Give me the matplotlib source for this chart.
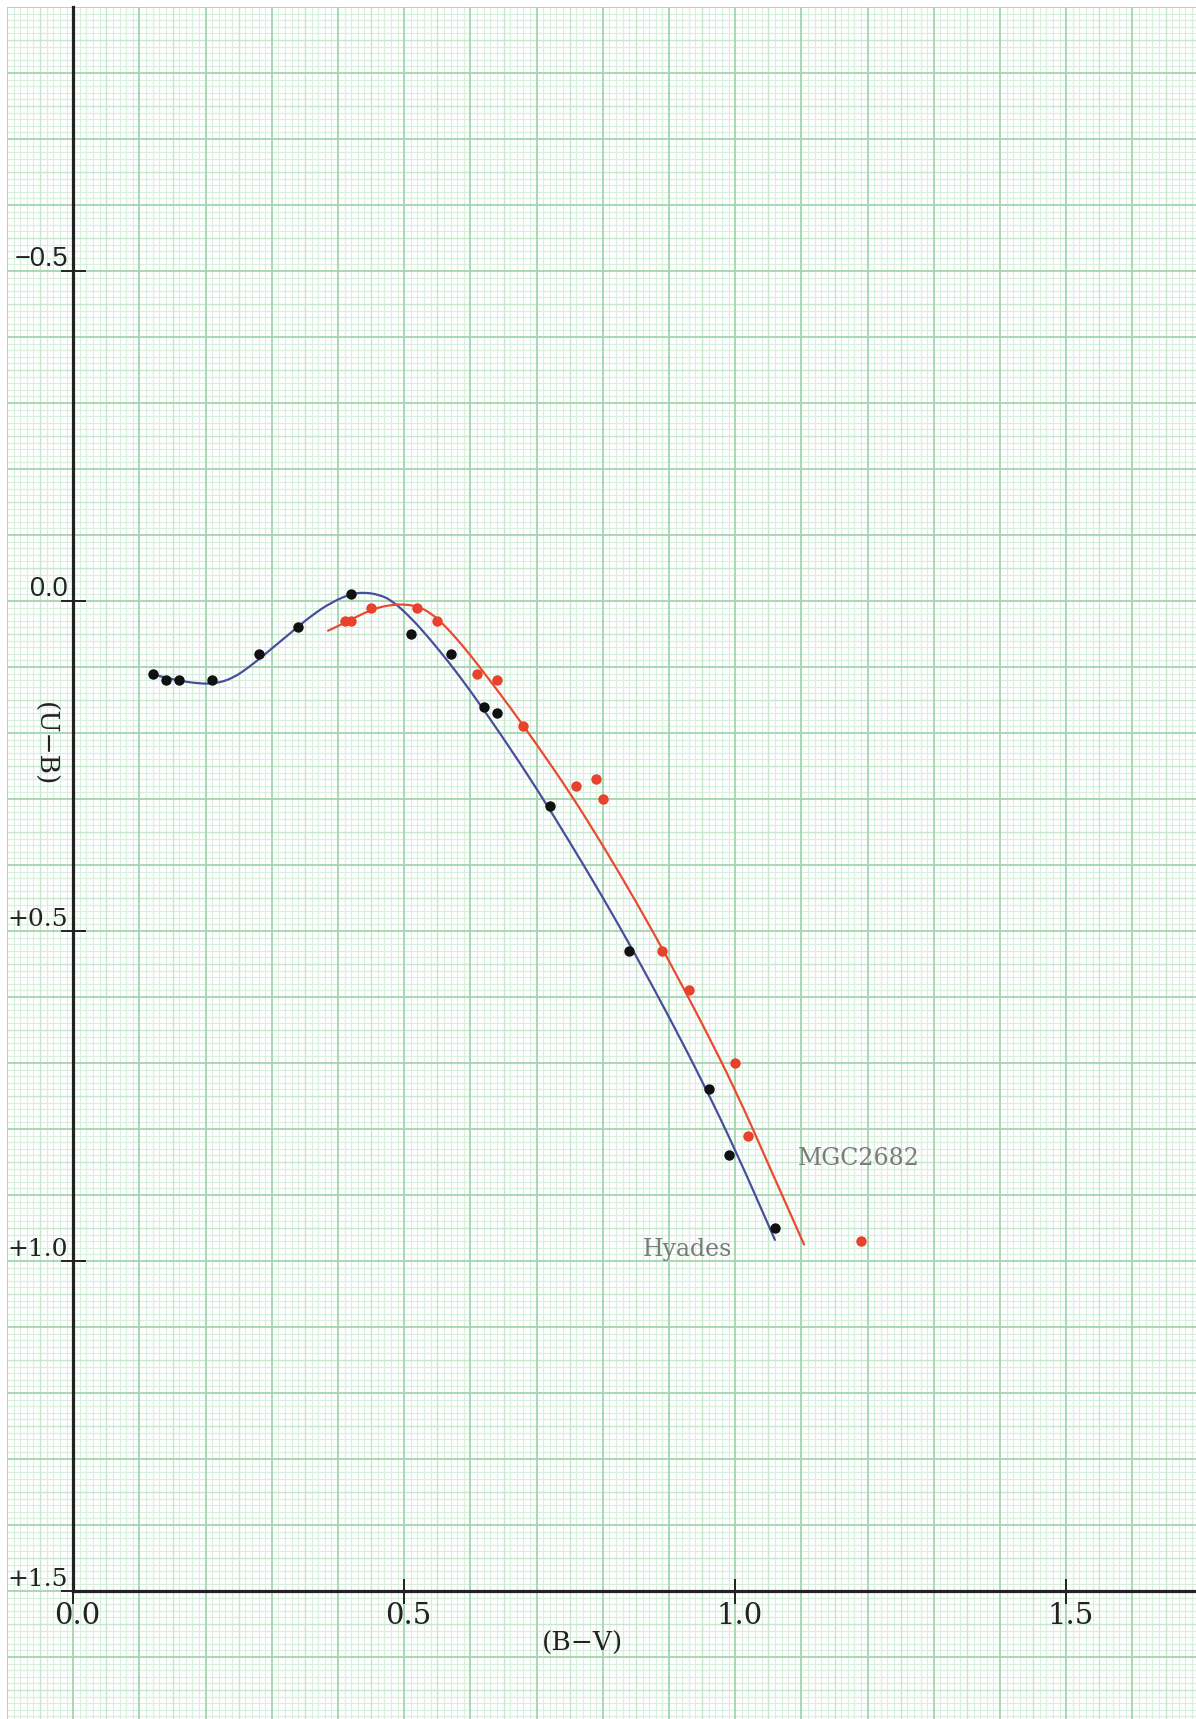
import numpy as np
import matplotlib
matplotlib.use("Agg")
import matplotlib.pyplot as plt
from matplotlib.path import Path
from matplotlib.patches import PathPatch

# ---------------- data ----------------
hyades_bv = [0.12, 0.14, 0.16, 0.21, 0.28, 0.34, 0.42, 0.51, 0.57, 0.62, 0.64,
             0.72, 0.84, 0.96, 0.99, 1.06]
hyades_ub = [0.11, 0.12, 0.12, 0.12, 0.08, 0.04, -0.01, 0.05, 0.08, 0.16, 0.17,
             0.31, 0.53, 0.74, 0.84, 0.95]

ngc_bv = [0.41, 0.42, 0.45, 0.52, 0.55, 0.61, 0.64, 0.68, 0.76, 0.79, 0.80,
          0.89, 0.93, 1.00, 1.02, 1.19]
ngc_ub = [0.03, 0.03, 0.01, 0.01, 0.03, 0.11, 0.12, 0.19, 0.28, 0.27, 0.30,
          0.53, 0.59, 0.70, 0.81, 0.97]

# fitted sequences
hyades_curve_bv = [0.12, 0.15, 0.18, 0.21, 0.24, 0.27, 0.30, 0.33, 0.36, 0.39,
                   0.42, 0.44, 0.46, 0.48, 0.51, 0.54, 0.57, 0.60, 0.65, 0.70,
                   0.75, 0.80, 0.85, 0.90, 0.95, 1.00, 1.06]
hyades_curve_ub = [0.111, 0.119, 0.124, 0.126, 0.118, 0.097, 0.072, 0.047, 0.022,
                   0.002, -0.011, -0.013, -0.010, -0.002, 0.025, 0.059, 0.096,
                   0.136, 0.208, 0.284, 0.365, 0.449, 0.537, 0.630, 0.727, 0.831,
                   0.968]

ngc_curve_bv = [0.385, 0.40, 0.42, 0.44, 0.46, 0.48, 0.50, 0.52, 0.54, 0.56,
                0.58, 0.60, 0.63, 0.66, 0.70, 0.75, 0.80, 0.85, 0.90, 0.95,
                1.00, 1.05, 1.104]
ngc_curve_ub = [0.045, 0.038, 0.028, 0.018, 0.010, 0.006, 0.005, 0.008, 0.018,
                0.036, 0.058, 0.082, 0.121, 0.161, 0.217, 0.290, 0.370, 0.455,
                0.545, 0.640, 0.740, 0.853, 0.975]

x_ticks = [0.0, 0.5, 1.0, 1.5]
x_tick_labels = ["0.0", "0.5", "1.0", "1.5"]
y_ticks = [-0.5, 0.0, 0.5, 1.0, 1.5]
y_tick_labels = ["\u22120.5", "0.0", "+0.5", "+1.0", "+1.5"]

x_title = "(B\u2212V)"
y_title = "(U\u2212B)"
label_hyades = "Hyades"
label_ngc = "MGC2682"

# ---------------- figure ----------------
W, H = 1196, 1719
fig = plt.figure(figsize=(W / 100, H / 100), dpi=100)
fig.patch.set_facecolor("white")
ax = fig.add_axes([7 / W, 0, (W - 7) / W, (H - 7) / H])
XMIN, XMAX = -0.1, -0.1 + (W - 7) / 662.0
YTOP, YBOT = -0.9, -0.9 + (H - 7) / 660.0
ax.set_xlim(XMIN, XMAX)
ax.set_ylim(YBOT, YTOP)
ax.set_facecolor("white")

# graph paper grid
vals_x = np.round(np.arange(-0.1, XMAX + 0.0001, 0.01), 2)
vals_y = np.round(np.arange(-0.9, YBOT + 0.0001, 0.01), 2)


def split(vals):
    major, medium, minor = [], [], []
    for v in vals:
        k = int(round(v * 100))
        if k % 10 == 0:
            major.append(v)
        elif k % 5 == 0:
            medium.append(v)
        else:
            minor.append(v)
    return major, medium, minor


mx, dx, nx = split(vals_x)
my, dy, ny = split(vals_y)
ax.vlines(nx, YTOP, YBOT, colors="#d7efdc", lw=0.8, zorder=0)
ax.hlines(ny, XMIN, XMAX, colors="#d7efdc", lw=0.8, zorder=0)
ax.vlines(dx, YTOP, YBOT, colors="#c6e7ce", lw=1.0, zorder=0.1)
ax.hlines(dy, XMIN, XMAX, colors="#c6e7ce", lw=1.0, zorder=0.1)
ax.vlines(mx, YTOP, YBOT, colors="#a2d6ae", lw=1.3, zorder=0.2)
ax.hlines(my, XMIN, XMAX, colors="#a2d6ae", lw=1.3, zorder=0.2)

# axes lines
for s in ["top", "right"]:
    ax.spines[s].set_visible(False)
ax.spines["left"].set_position(("data", 0.0))
ax.spines["left"].set_bounds(YTOP, 1.5)
ax.spines["bottom"].set_position(("data", 1.5))
ax.spines["bottom"].set_bounds(0.0, XMAX)
for s in ["left", "bottom"]:
    ax.spines[s].set_linewidth(2.3)
    ax.spines[s].set_color("#222222")
    ax.spines[s].set_zorder(3)
ax.set_xticks(x_ticks)
ax.set_yticks(y_ticks)
ax.tick_params(direction="inout", length=18, width=1.4, color="#222222",
               labelbottom=False, labelleft=False)

# tick labels
for v, t in zip(x_ticks, x_tick_labels):
    ax.text(v + 0.006, 1.5 + 0.016, t, ha="center", va="top",
            fontsize=21, family="DejaVu Serif", color="#222222")
for v, t in zip(y_ticks, y_tick_labels):
    fam = "Liberation Sans" if v <= 0 else "DejaVu Serif"
    fs = 19.5 if v <= 0 else 18
    ax.text(-0.008, v - 0.008, t, ha="right", va="baseline",
            fontsize=fs, family=fam, color="#222222")


# smooth curves: quadratic Bezier segments through the read points' midpoints
def smooth_path(xs, ys):
    pts = list(zip(xs, ys))
    verts = [pts[0]]
    codes = [Path.MOVETO]
    for i in range(1, len(pts) - 1):
        mid = ((pts[i][0] + pts[i + 1][0]) / 2, (pts[i][1] + pts[i + 1][1]) / 2)
        verts += [pts[i], mid]
        codes += [Path.CURVE3, Path.CURVE3]
    verts.append(pts[-1])
    codes.append(Path.LINETO)
    return Path(verts, codes)


ax.add_patch(PathPatch(smooth_path(hyades_curve_bv, hyades_curve_ub),
                       facecolor="none", edgecolor="#4a4d9c", lw=1.6,
                       capstyle="round", zorder=4))
ax.add_patch(PathPatch(smooth_path(ngc_curve_bv, ngc_curve_ub),
                       facecolor="none", edgecolor="#ea4a30", lw=1.6,
                       capstyle="round", zorder=4))

# points
ax.plot(hyades_bv, hyades_ub, "o", color="#111111", ms=7.5, mew=0, zorder=5)
ax.plot(ngc_bv, ngc_ub, "o", color="#e8412c", ms=7.5, mew=0, zorder=5)

# titles and labels
ax.text(0.769, 1.579, x_title, ha="center", va="center", fontsize=19,
        family="DejaVu Serif", color="#222222")
ax.text(-0.044, 0.217, y_title, ha="center", va="center", fontsize=19,
        rotation=270, family="DejaVu Serif", color="#222222")
ax.text(0.861, 0.983, label_hyades, ha="left", va="center", fontsize=17,
        family="DejaVu Serif", color="#7a7a7a")
ax.text(1.094, 0.844, label_ngc, ha="left", va="center", fontsize=17,
        family="DejaVu Serif", color="#7a7a7a")

fig.savefig("out.png", dpi=100, facecolor="white")
